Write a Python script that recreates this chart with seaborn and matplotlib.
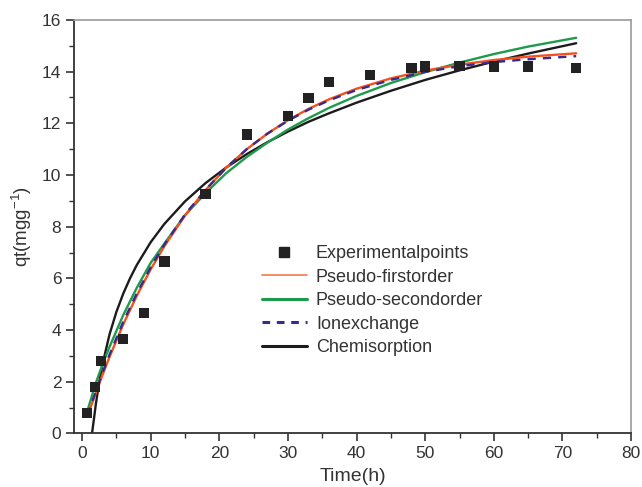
import numpy as np
import pandas as pd
import matplotlib
matplotlib.use("Agg")
import matplotlib.pyplot as plt
from matplotlib.ticker import MultipleLocator
from matplotlib.lines import Line2D
import seaborn as sns

# ---- data ----
t_exp = [0.75, 1.85, 2.8, 6, 9, 12, 18, 24, 30, 33, 36, 42, 48, 50, 55, 60, 65, 72]
q_exp = [0.8, 1.8, 2.81, 3.65, 4.67, 6.65, 9.27, 11.57, 12.29, 12.98, 13.59,
         13.86, 14.15, 14.2, 14.22, 14.2, 14.2, 14.15]

t_fit = [0.75, 2, 3, 4, 6, 8, 10, 12, 15, 18, 21, 24, 27, 30, 33, 36, 40, 45,
         50, 55, 60, 65, 72]
q_first = [0.65, 1.56, 2.28, 2.96, 4.22, 5.34, 6.35, 7.25, 8.43, 9.42, 10.28,
           11.0, 11.6, 12.12, 12.56, 12.93, 13.34, 13.74, 14.04, 14.27, 14.45,
           14.58, 14.71]
q_second = [0.85, 1.95, 2.68, 3.35, 4.58, 5.65, 6.6, 7.35, 8.45, 9.3, 10.07,
            10.7, 11.25, 11.76, 12.2, 12.6, 13.06, 13.56, 13.98, 14.35, 14.68,
            14.97, 15.31]
q_ion = [0.7, 1.62, 2.36, 3.05, 4.32, 5.43, 6.43, 7.31, 8.47, 9.43, 10.28,
         11.0, 11.6, 12.1, 12.53, 12.89, 13.29, 13.68, 13.99, 14.21, 14.37,
         14.48, 14.6]

t_chem = [1.45, 1.75, 2, 2.5, 3, 4, 5, 6, 7, 8, 10, 12, 15, 18, 21, 24, 27, 30,
          33, 36, 40, 45, 50, 55, 60, 65, 72]
q_chem = [0.0, 0.6, 1.12, 1.99, 2.7, 3.83, 4.7, 5.41, 6.01, 6.53, 7.4, 8.11,
          8.98, 9.69, 10.29, 10.81, 11.27, 11.68, 12.06, 12.39, 12.8, 13.26,
          13.68, 14.05, 14.39, 14.7, 15.1]

labels = ["Experimentalpoints", "Pseudo-firstorder", "Pseudo-secondorder",
          "Ionexchange", "Chemisorption"]

# ---- style ----
sns.set_theme(style="ticks")
plt.rcParams["font.family"] = ["Liberation Sans", "DejaVu Sans"]
plt.rcParams["mathtext.fontset"] = "custom"
plt.rcParams["mathtext.rm"] = "Liberation Sans"
plt.rcParams["mathtext.it"] = "Liberation Sans"

c_red = "#f4511e"
c_green = "#1e9a4c"
c_blue = "#3a2a8c"
c_black = "#1c1c1c"
c_pts = "#222222"

fig = plt.figure(figsize=(6.42, 4.87), dpi=100)
ax = fig.add_axes([0.115, 0.110, 0.868, 0.849])

sns.lineplot(x=t_chem, y=q_chem, ax=ax, color=c_black, lw=1.7, label=labels[4])
sns.lineplot(x=t_fit, y=q_second, ax=ax, color=c_green, lw=1.7, label=labels[2])
sns.lineplot(x=t_fit, y=q_first, ax=ax, color=c_red, lw=1.7, label=labels[1])
sns.lineplot(x=t_fit, y=q_ion, ax=ax, color=c_blue, lw=1.7, label=labels[3])
for ln in ax.lines:
    if ln.get_color() == c_blue:
        ln.set_linestyle((0, (3.5, 3)))
sns.scatterplot(x=t_exp, y=q_exp, ax=ax, marker="s", s=55, color=c_pts,
                edgecolor="none", label=labels[0], zorder=5)

ax.set_xlim(-1.2, 80)
ax.set_ylim(0, 16)
ax.xaxis.set_major_locator(MultipleLocator(10))
ax.xaxis.set_minor_locator(MultipleLocator(5))
ax.yaxis.set_major_locator(MultipleLocator(2))
ax.yaxis.set_minor_locator(MultipleLocator(1))
ax.tick_params(which="major", direction="out", length=6, width=1.2,
               color="#333333", labelsize=12.5, labelcolor="#333333", pad=3)
ax.tick_params(which="minor", direction="out", length=3.5, width=1.0,
               color="#333333")
for s in ["left", "bottom"]:
    ax.spines[s].set_color("#333333")
    ax.spines[s].set_linewidth(1.3)
for s in ["top", "right"]:
    ax.spines[s].set_visible(True)
    ax.spines[s].set_color("#9a9a9a")
    ax.spines[s].set_linewidth(1.2)

ax.set_xlabel("Time(h)", fontsize=14, color="#333333", labelpad=5)
ax.set_ylabel("qt(mgg$^{-1}$)", fontsize=13.5, color="#333333", labelpad=6)

handles = [
    Line2D([], [], ls="none", marker="s", ms=7, color=c_pts),
    Line2D([], [], color="#f27a4c", lw=1.2),
    Line2D([], [], color=c_green, lw=2.2),
    Line2D([], [], color=c_blue, lw=2.2, ls=(0, (2.5, 2.2))),
    Line2D([], [], color=c_black, lw=2.2),
]
ax.legend(handles=handles, labels=labels, loc="upper left",
          bbox_to_anchor=(0.321, 0.477), frameon=False, fontsize=13,
          handlelength=2.5, handletextpad=0.5, labelspacing=0.36,
          borderpad=0, labelcolor="#333333")

fig.savefig("out.png", dpi=100)
